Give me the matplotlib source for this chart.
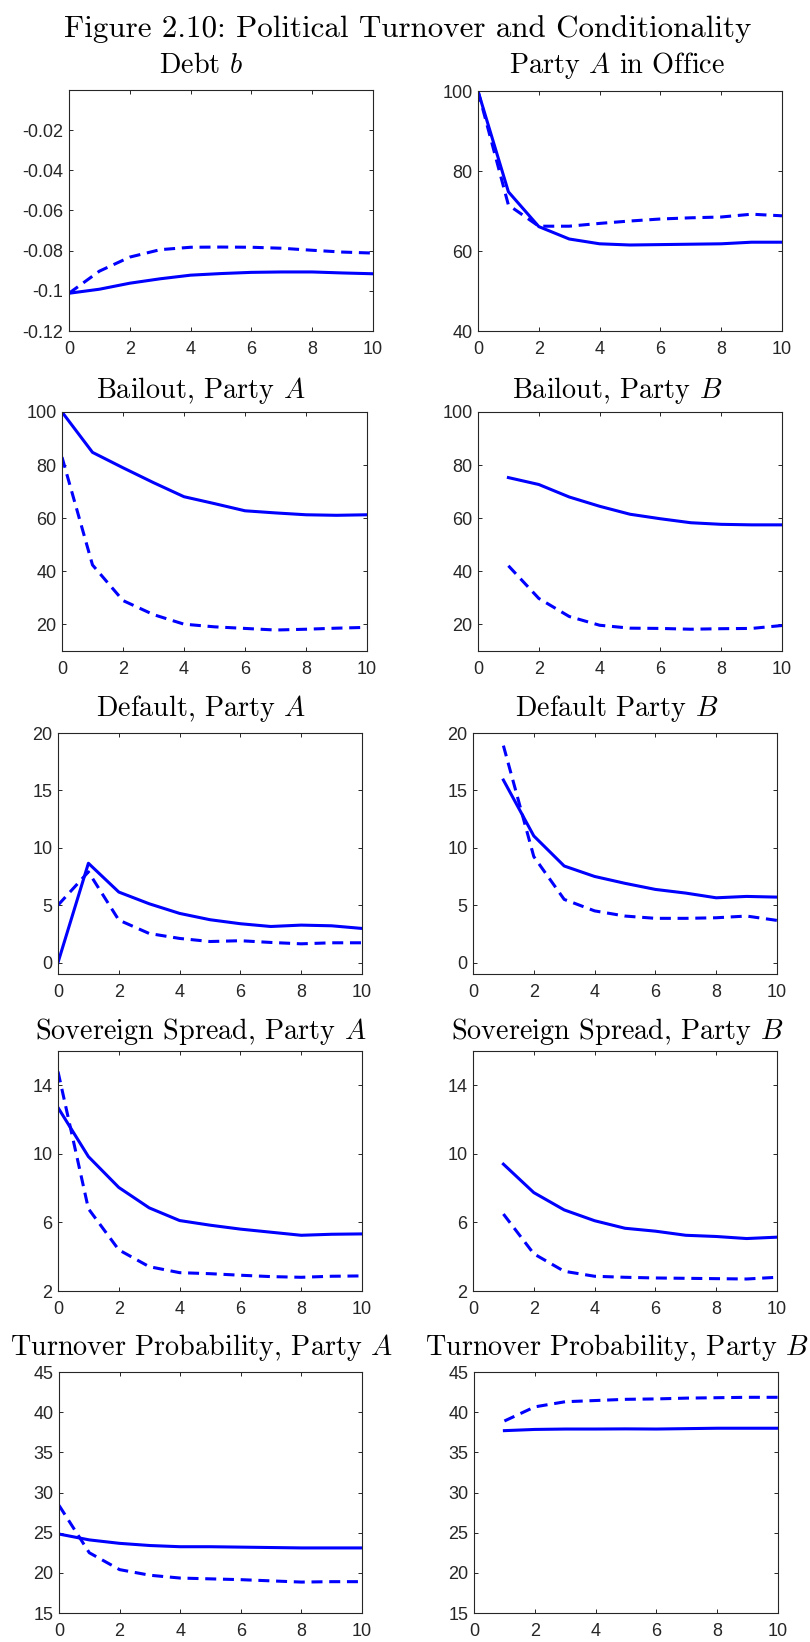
import matplotlib
matplotlib.use("Agg")
import matplotlib.pyplot as plt

plt.rcParams['font.family'] = ['Liberation Sans', 'DejaVu Sans']
plt.rcParams['mathtext.fontset'] = 'cm'

# ---------------- data ----------------
x_A = [0, 1, 2, 3, 4, 5, 6, 7, 8, 9, 10]
x_B = [1, 2, 3, 4, 5, 6, 7, 8, 9, 10]

debt_solid = [-0.1012, -0.0992, -0.0962, -0.0940, -0.0922, -0.0914, -0.0908, -0.0906, -0.0906, -0.0911, -0.0915]
debt_dashed = [-0.1012, -0.0902, -0.0832, -0.0795, -0.0783, -0.0782, -0.0783, -0.0788, -0.0798, -0.0807, -0.0812]

office_solid = [100, 74.8, 66.1, 63.0, 61.8, 61.5, 61.6, 61.7, 61.8, 62.2, 62.2]
office_dashed = [100, 71.5, 66.2, 66.2, 66.9, 67.5, 68.0, 68.3, 68.5, 69.2, 68.8]

bail_A_solid = [100, 84.8, 79.0, 73.4, 68.1, 65.5, 62.8, 62.0, 61.3, 61.1, 61.3]
bail_A_dashed = [83.0, 42.4, 29.0, 23.7, 20.1, 19.1, 18.5, 17.9, 18.2, 18.6, 18.9]
bail_B_solid = [75.3, 72.7, 68.0, 64.5, 61.5, 59.8, 58.3, 57.7, 57.5, 57.5]
bail_B_dashed = [42.1, 29.8, 23.0, 19.7, 18.6, 18.5, 18.2, 18.4, 18.5, 19.6]

def_A_solid = [0.0, 8.65, 6.14, 5.12, 4.28, 3.73, 3.38, 3.14, 3.26, 3.20, 2.97]
def_A_dashed = [5.0, 7.9, 3.7, 2.53, 2.10, 1.83, 1.90, 1.75, 1.63, 1.72, 1.72]
def_B_solid = [15.9, 11.03, 8.41, 7.5, 6.9, 6.37, 6.05, 5.64, 5.76, 5.70]
def_B_dashed = [18.9, 9.23, 5.5, 4.5, 4.05, 3.85, 3.85, 3.9, 4.05, 3.67]

spr_A_solid = [12.7, 9.84, 8.04, 6.85, 6.11, 5.84, 5.61, 5.43, 5.25, 5.31, 5.33]
spr_A_dashed = [14.8, 6.8, 4.4, 3.42, 3.07, 3.01, 2.92, 2.84, 2.80, 2.86, 2.88]
spr_B_solid = [9.4, 7.74, 6.73, 6.1, 5.66, 5.49, 5.25, 5.18, 5.06, 5.14]
spr_B_dashed = [6.49, 4.17, 3.15, 2.86, 2.80, 2.76, 2.74, 2.72, 2.70, 2.80]

turn_A_solid = [24.83, 24.1, 23.67, 23.4, 23.25, 23.25, 23.2, 23.15, 23.1, 23.1, 23.1]
turn_A_dashed = [28.4, 22.5, 20.4, 19.7, 19.35, 19.25, 19.15, 19.0, 18.85, 18.9, 18.9]
turn_B_solid = [37.7, 37.85, 37.9, 37.9, 37.92, 37.9, 37.95, 38.0, 38.0, 38.0]
turn_B_dashed = [38.9, 40.66, 41.3, 41.45, 41.6, 41.65, 41.75, 41.8, 41.85, 41.85]

main_title = "Figure 2.10: Political Turnover and Conditionality"
titles = ["Debt $b$", "Party $A$ in Office",
          "Bailout, Party $A$", "Bailout, Party $B$",
          "Default, Party $A$", "Default Party $B$",
          "Sovereign Spread, Party $A$", "Sovereign Spread, Party $B$",
          "Turnover Probability, Party $A$", "Turnover Probability, Party $B$"]

xticks = [0, 2, 4, 6, 8, 10]
ylims = [(-0.12, 0.0), (40, 100), (10, 100), (10, 100), (-1, 20), (-1, 20),
         (2, 16), (2, 16), (15, 45), (15, 45)]
yticks = [[-0.12, -0.10, -0.08, -0.06, -0.04, -0.02], [40, 60, 80, 100],
          [20, 40, 60, 80, 100], [20, 40, 60, 80, 100],
          [0, 5, 10, 15, 20], [0, 5, 10, 15, 20],
          [2, 6, 10, 14], [2, 6, 10, 14],
          [15, 20, 25, 30, 35, 40, 45], [15, 20, 25, 30, 35, 40, 45]]
yticklabels = [["-0.12", "-0.1", "-0.08", "-0.06", "-0.04", "-0.02"], ["40", "60", "80", "100"],
               ["20", "40", "60", "80", "100"], ["20", "40", "60", "80", "100"],
               ["0", "5", "10", "15", "20"], ["0", "5", "10", "15", "20"],
               ["2", "6", "10", "14"], ["2", "6", "10", "14"],
               ["15", "20", "25", "30", "35", "40", "45"], ["15", "20", "25", "30", "35", "40", "45"]]

series = [(x_A, debt_solid, debt_dashed), (x_A, office_solid, office_dashed),
          (x_A, bail_A_solid, bail_A_dashed), (x_B, bail_B_solid, bail_B_dashed),
          (x_A, def_A_solid, def_A_dashed), (x_B, def_B_solid, def_B_dashed),
          (x_A, spr_A_solid, spr_A_dashed), (x_B, spr_B_solid, spr_B_dashed),
          (x_A, turn_A_solid, turn_A_dashed), (x_B, turn_B_solid, turn_B_dashed)]

# ---------------- layout (pixels) ----------------
W, H = 810, 1642
boxes = [(69, 373, 90, 331), (478, 782, 91, 331),
         (62, 367, 412, 651), (478, 782, 412, 651),
         (58, 362, 733, 974), (473, 777, 733, 974),
         (58, 362, 1051, 1291), (473, 777, 1051, 1291),
         (59, 362, 1372, 1613), (474, 778, 1372, 1613)]
title_base = [73, 73, 398, 398, 716, 716, 1039, 1039, 1355, 1355]
title_cx = [201, 617]

fig = plt.figure(figsize=(W / 100, H / 100), dpi=100)
renderer = fig.canvas.get_renderer()

BLUE = (0, 0, 1)
AXC = '#262626'

for i, (l, r, t, b) in enumerate(boxes):
    ax = fig.add_axes([l / W, 1 - b / H, (r - l) / W, (b - t) / H])
    xs, ys, yd = series[i]
    ax.plot(xs, ys, color=BLUE, lw=2.2, solid_joinstyle='round')
    ax.plot(xs, yd, color=BLUE, lw=2.2, linestyle=(0, (3.6, 2.2)))
    ax.set_xlim(0, 10)
    ax.set_ylim(*ylims[i])
    ax.set_xticks(xticks)
    ax.set_xticklabels([str(v) for v in xticks])
    ax.set_yticks(yticks[i])
    ax.set_yticklabels(yticklabels[i])
    ax.tick_params(direction='in', top=True, right=True, length=3, width=0.7,
                   colors=AXC, labelsize=13)
    ax.tick_params(axis='x', pad=7.5)
    ax.tick_params(axis='y', pad=4)
    for s in ax.spines.values():
        s.set_color(AXC)
        s.set_linewidth(0.8)

def fit_text(x, y, s, target_w, size0=20):
    txt = fig.text(x / W, 1 - y / H, s, ha='center', va='baseline',
                   fontfamily='cmr10', fontsize=size0, color='black')
    w = txt.get_window_extent(renderer).width
    txt.set_fontsize(size0 * target_w / w)
    return txt

mt = fit_text(408, 37, main_title, 687)
# subplot titles: fit size on the longest one, reuse for all
probe = fit_text(201, 1355, titles[8], 383)
tsize = probe.get_fontsize()
probe.remove()
for i, s in enumerate(titles):
    fig.text(title_cx[i % 2] / W, 1 - title_base[i] / H, s, ha='center', va='baseline',
             fontfamily='cmr10', fontsize=tsize, color='black')

fig.savefig('out.png', dpi=100)
